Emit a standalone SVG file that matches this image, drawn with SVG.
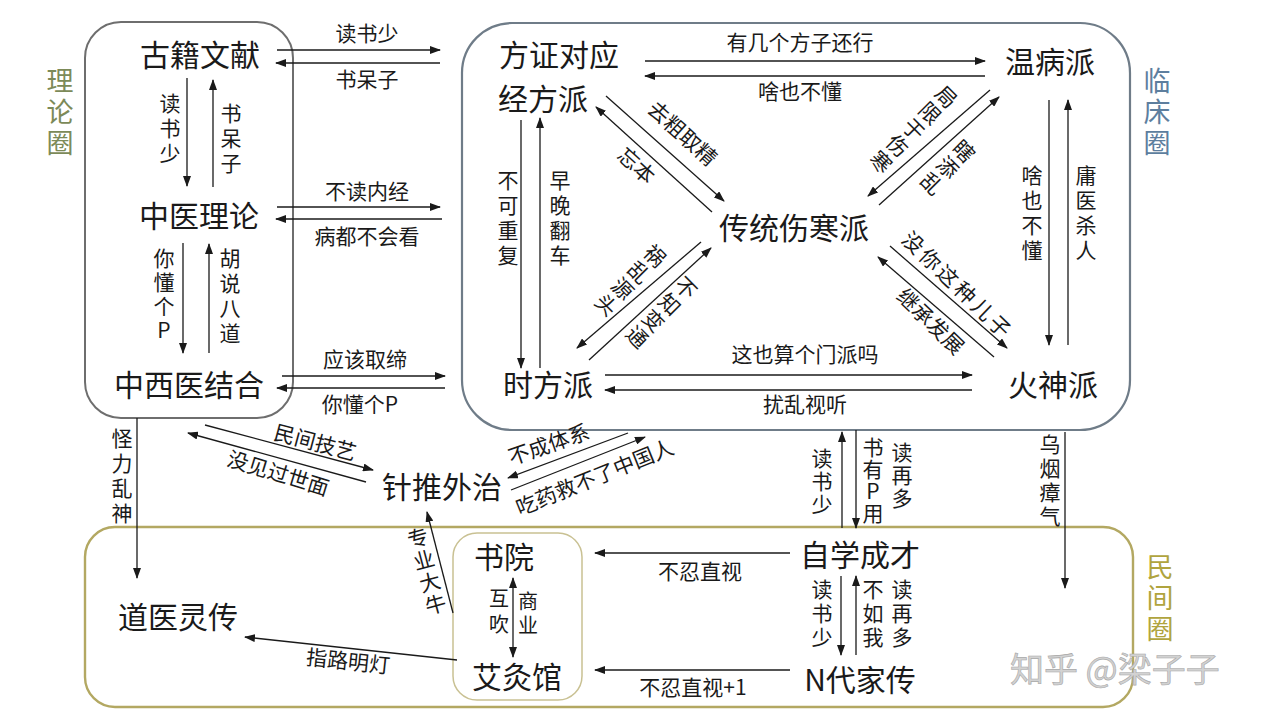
<svg xmlns="http://www.w3.org/2000/svg" width="1280" height="720" viewBox="0 0 1280 720">
<defs>
<marker id="ah" markerWidth="11" markerHeight="8" refX="10" refY="4" orient="auto-start-reverse" markerUnits="userSpaceOnUse"><path d="M0,0 L11,4 L0,8 z" fill="#1a1a1a"/></marker>
</defs>
<style>
text{font-family:"Noto Sans CJK SC","Noto Sans",sans-serif;fill:#1a1a1a}
.node{font-size:30px;text-anchor:middle}
.lb{font-size:21px;text-anchor:middle}
.vl{font-size:21px;text-anchor:middle;writing-mode:vertical-rl;text-orientation:upright;letter-spacing:4px}
.rg{font-size:27px;text-anchor:middle;writing-mode:vertical-rl;text-orientation:upright;letter-spacing:4px}
.c path{fill:none;stroke:#1a1a1a;stroke-width:1.3;marker-end:url(#ah)}
.box{fill:none}
</style>
<rect width="1280" height="720" fill="#ffffff"/>

<g id="groups">
<rect class="box" x="85" y="22" width="208" height="396" rx="36" stroke="#6e6e6e" stroke-width="2"/>
<rect class="box" x="462" y="23" width="668" height="407" rx="50" stroke="#6f7c88" stroke-width="2.2"/>
<rect class="box" x="85" y="527" width="1048" height="180" rx="30" stroke="#b3a862" stroke-width="2.4"/>
<rect class="box" x="453" y="533" width="129" height="167" rx="24" stroke="#c9c193" stroke-width="1.5"/>
<text class="rg" x="60" y="114" style="fill:#7c8a58">理论圈</text>
<text class="rg" x="1157" y="114" style="fill:#5d7e9e">临床圈</text>
<text class="rg" x="1160" y="600" style="fill:#b0a43e">民间圈</text>
</g>

<g id="n-gujiwenxian"><text class="node" x="200" y="66">古籍文献</text></g>
<g id="n-zhongyililun"><text class="node" x="199" y="227">中医理论</text></g>
<g id="n-zhongxiyi"><text class="node" x="189" y="396">中西医结合</text></g>
<g id="n-jingfang"><text class="node"><tspan x="559" y="66">方证对应</tspan><tspan x="543" y="110">经方派</tspan></text></g>
<g id="n-wenbing"><text class="node" x="1050" y="73">温病派</text></g>
<g id="n-shanghan"><text class="node" x="794" y="239">传统伤寒派</text></g>
<g id="n-shifang"><text class="node" x="548" y="396">时方派</text></g>
<g id="n-huoshen"><text class="node" x="1053" y="396">火神派</text></g>
<g id="n-zhentui"><text class="node" x="442" y="498">针推外治</text></g>
<g id="n-shuyuan"><text class="node" x="504" y="568">书院</text></g>
<g id="n-aijiu"><text class="node" x="517" y="688">艾灸馆</text></g>
<g id="n-zixue"><text class="node" x="860" y="566">自学成才</text></g>
<g id="n-jiachuan"><text class="node" x="860" y="691">N代家传</text></g>
<g id="n-daoyi"><text class="node" x="178" y="628">道医灵传</text></g>

<g id="connectors" class="c">
<path d="M277,50 L440,50"/>
<path d="M440,63 L276,63"/>
<path d="M277,207 L440,207"/>
<path d="M442,219 L276,219"/>
<path d="M282,376 L445,376"/>
<path d="M445,388 L277,388"/>
<path d="M187,78 L187,186"/>
<path d="M213,187 L213,80"/>
<path d="M183,243 L183,353"/>
<path d="M209,353 L209,244"/>
<path d="M137,418 L137,578"/>
<path d="M645,61 L985,61"/>
<path d="M985,76 L645,76"/>
<path d="M521,120 L521,368"/>
<path d="M540,368 L540,118"/>
<path d="M1049,100 L1049,345"/>
<path d="M1068,345 L1068,100"/>
<path d="M606,96 L724,201"/>
<path d="M712,212 L596,107"/>
<path d="M990,90 L868,196"/>
<path d="M879,205 L999,97"/>
<path d="M701,242 L577,348"/>
<path d="M589,360 L711,248"/>
<path d="M890,246 L1007,348"/>
<path d="M994,357 L878,257"/>
<path d="M605,375 L972,375"/>
<path d="M972,390 L605,390"/>
<path d="M205,425 L373,470"/>
<path d="M366,482 L188,433"/>
<path d="M628,433 L508,478"/>
<path d="M511,490 L645,437"/>
<path d="M842,528 L842,432"/>
<path d="M856,430 L856,528"/>
<path d="M1065,432 L1065,588"/>
<path d="M453,613 L427,512"/>
<path d="M457,660 L245,637"/>
<path d="M513,578 L513,657" style="marker-start:url(#ah)"/>
<path d="M790,553 L595,553"/>
<path d="M790,670 L595,670"/>
<path d="M841,576 L841,655"/>
<path d="M856,655 L856,576"/>
</g>

<g id="labels">
<text class="lb" x="367" y="41">读书少</text>
<text class="lb" x="367" y="87">书呆子</text>
<text class="lb" x="367" y="199">不读内经</text>
<text class="lb" x="367" y="244">病都不会看</text>
<text class="lb" x="365" y="367">应该取缔</text>
<text class="lb" x="360" y="412">你懂个P</text>
<text class="vl" x="170" y="130">读书少</text>
<text class="vl" x="231" y="140">书呆子</text>
<text class="vl" x="164" y="296" style="letter-spacing:3px">你懂个P</text>
<text class="vl" x="230" y="298">胡说八道</text>
<text class="vl" x="122" y="478">怪力乱神</text>
<text class="lb" x="800" y="50">有几个方子还行</text>
<text class="lb" x="800" y="99">啥也不懂</text>
<text class="vl" x="508" y="220">不可重复</text>
<text class="vl" x="560" y="220">早晚翻车</text>
<text class="vl" x="1032" y="215">啥也不懂</text>
<text class="vl" x="1086" y="215">庸医杀人</text>
<text class="lb" transform="translate(682,134) rotate(42)" y="7">去粗取精</text>
<text class="lb" transform="translate(636,166) rotate(42)" y="7">忘本</text>
<text class="vl" transform="translate(913,130) rotate(45)" x="0" y="0" style="letter-spacing:2px">局限于伤寒</text>
<text class="vl" transform="translate(947,168) rotate(45)" x="0" y="0" style="letter-spacing:2px">瞎添乱</text>
<text class="vl" transform="translate(630,281) rotate(45)" x="0" y="0" style="letter-spacing:2px">祸乱源头</text>
<text class="vl" transform="translate(661,313) rotate(45)" x="0" y="0" style="letter-spacing:2px">不知变通</text>
<text class="lb" transform="translate(957,286) rotate(44)" y="7" letter-spacing="3">没你这种儿子</text>
<text class="lb" transform="translate(930,322) rotate(44)" y="7">继承发展</text>
<text class="lb" x="805" y="362">这也算个门派吗</text>
<text class="lb" x="805" y="412">扰乱视听</text>
<text class="lb" transform="translate(315,443) rotate(15)" y="7">民间技艺</text>
<text class="lb" transform="translate(278,474) rotate(17)" y="7">没见过世面</text>
<text class="lb" transform="translate(549,445) rotate(-19)" y="7">不成体系</text>
<text class="lb" transform="translate(595,478) rotate(-22)" y="7">吃药救不了中国人</text>
<text class="vl" x="822" y="482" style="letter-spacing:2px">读书少</text>
<text class="vl" x="873" y="481" style="letter-spacing:1px">书有P用</text>
<text class="vl" x="902" y="476" style="letter-spacing:2px">读再多</text>
<text class="vl" x="1050" y="482" style="letter-spacing:3px">乌烟瘴气</text>
<text class="vl" transform="translate(427,572) rotate(-15)" x="0" y="0" style="letter-spacing:2px">专业大牛</text>
<text class="lb" transform="translate(348,662) rotate(6)" y="7">指路明灯</text>
<text class="vl" x="499" y="614" style="font-size:20px;letter-spacing:6px">互吹</text>
<text class="vl" x="528" y="615" style="font-size:20px">商业</text>
<text class="lb" x="700" y="579">不忍直视</text>
<text class="lb" x="693" y="695">不忍直视+1</text>
<text class="vl" x="822" y="615" style="letter-spacing:3px">读书少</text>
<text class="vl" x="873" y="615" style="letter-spacing:3px">不如我</text>
<text class="vl" x="902" y="615" style="letter-spacing:3px">读再多</text>
<text x="1010" y="682" style="font-size:34px;fill:#d2d2d2;stroke:#a8a8a8;stroke-width:0.6">知乎 @梁子子</text>
</g>
</svg>
